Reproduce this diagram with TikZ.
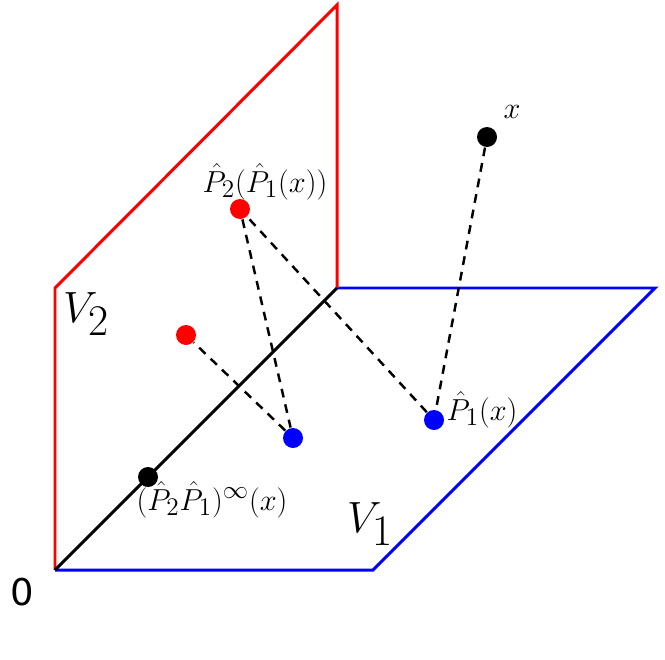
\documentclass[tikz,border=0pt]{standalone}
\usepackage{amsmath}
\usepackage{fontspec}
\newfontfamily\zerofont{DejaVu Sans}
\DeclareMathSizes{16}{16}{14}{11}
\DeclareMathSizes{19}{19}{15}{12}
\DeclareMathSizes{32}{32}{23}{17}
\usetikzlibrary{calc,positioning}

\begin{document}
\begin{tikzpicture}[x=0.02cm, y=-0.02cm, thick, plane/.style={line width=1.7pt}, proj/.style={draw=black, line width=1.4pt, dashed, dash pattern=on 5pt off 4pt}]
% Define styles for points and labels
\tikzstyle{pt} = [circle, inner sep=0pt, minimum size=0.4cm]
\tikzstyle{lbl} = [inner sep=0pt, font=\fontsize{16}{18}\selectfont]
\tikzstyle{big} = [inner sep=0pt, font=\fontsize{32}{34}\selectfont]

\useasboundingbox (0,0) rectangle (665,659);

% Plane corners
\coordinate (o) at (55,570);
\coordinate (a) at (373,570);
\coordinate (b) at (655,288);
\coordinate (c) at (337,288);
\coordinate (d) at (55,288);
\coordinate (e) at (337,5);

% Planes
\draw[plane, blue] (o) -- (a) -- (b) -- (c);
\draw[plane, red] (o) -- (d) -- (e) -- (c);
\draw[plane, black] (o) -- (c);

% Points
\node [pt, fill=black] (x) at (487,137) {};
\node [pt, fill=blue] (p1) at (434,420) {};
\node [pt, fill=red] (p21) at (240,209) {};
\node [pt, fill=blue] (q1) at (293,438) {};
\node [pt, fill=red] (q2) at (186,335) {};
\node [pt, fill=black] (lim) at (148,477) {};

% Projections
\draw[proj] (x) -- (p1);
\draw[proj] (p1) -- (p21);
\draw[proj] (p21) -- (q1);
\draw[proj] (q1) -- (q2);

% Labels
\node [lbl, anchor=base, font=\fontsize{19}{21}\selectfont] at (512,118) {$x$};
\node [lbl, anchor=base] at (265,192) {$\hat{P}_2(\hat{P}_1(x))$};
\node [lbl, anchor=base] at (482,420) {$\hat{P}_1(x)$};
\node [lbl, anchor=base] at (212,510) {$(\hat{P}_2\hat{P}_1)^{\infty}(x)$};
\node [big, anchor=base] at (86,322) {$V_2$};
\node [big, anchor=base] at (370,532) {$V_1$};
\node [inner sep=0pt, font=\zerofont\fontsize{21}{24}\selectfont] at (22,592) {0};
\end{tikzpicture}
\end{document}
